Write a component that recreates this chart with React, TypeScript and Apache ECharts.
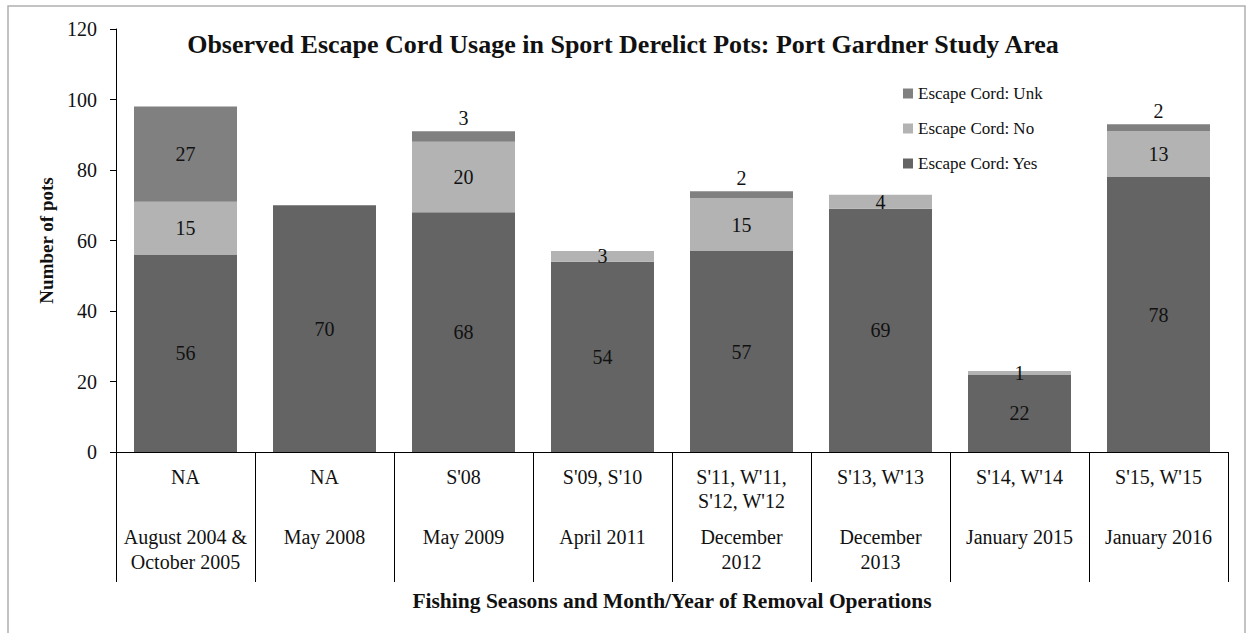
import React, { useEffect, useRef } from "react";
import * as echarts from "echarts";

const seasons = ["NA", "NA", "S'08", "S'09, S'10", "S'11, W'11,\nS'12, W'12", "S'13, W'13", "S'14, W'14", "S'15, W'15"];
const months = ["August 2004 &\nOctober 2005", "May 2008", "May 2009", "April 2011", "December\n2012", "December\n2013", "January 2015", "January 2016"];
const yesValues = [56, 70, 68, 54, 57, 69, 22, 78];
const noValues = [15, 0, 20, 3, 15, 4, 1, 13];
const unkValues = [27, 0, 3, 0, 2, 0, 0, 2];
const yTicks = { min: 0, max: 120, interval: 20 };

const FONT = "Liberation Serif";

export default function App() {
  const ref = useRef<HTMLDivElement>(null);
  useEffect(() => {
    if (!ref.current) return;
    const chart = echarts.init(ref.current, undefined, { renderer: "svg" });
    const labelBase = {
      show: true,
      fontFamily: FONT,
      fontSize: 20,
      color: "#111",
      formatter: (p: any) => (p.value ? String(p.value) : ""),
    };
    chart.setOption({
      animation: false,
      backgroundColor: "#fff",
      title: {
        text: "Observed Escape Cord Usage in Sport Derelict Pots: Port Gardner Study Area",
        left: 618,
        textAlign: "center",
        top: 26,
        textStyle: { fontFamily: FONT, fontWeight: "bold", fontSize: 26, color: "#111" },
      },
      graphic: [
        {
          type: "rect",
          shape: { x: 8, y: 6, width: 1237, height: 660 },
          style: { fill: "none", stroke: "#b0b0b0", lineWidth: 1.5 },
          silent: true,
        },
      ],
      legend: {
        orient: "vertical",
        left: 898,
        top: 80,
        itemWidth: 10,
        itemHeight: 10,
        itemGap: 18,
        icon: "rect",
        data: ["Escape Cord: Unk", "Escape Cord: No", "Escape Cord: Yes"],
        textStyle: { fontFamily: FONT, fontSize: 17, color: "#111" },
      },
      grid: { left: 116, right: 19, top: 29, bottom: 181 },
      xAxis: [
        {
          type: "category",
          data: seasons,
          position: "bottom",
          axisLine: { show: true, lineStyle: { color: "#000", width: 1 } },
          axisTick: { show: true, interval: 0, length: 130, lineStyle: { color: "#000", width: 1 } },
          axisLabel: {
            interval: 0,
            margin: 13,
            fontFamily: FONT,
            fontSize: 20,
            lineHeight: 24,
            color: "#111",
          },
          name: "Fishing Seasons and Month/Year of Removal Operations",
          nameLocation: "middle",
          nameGap: 138,
          nameTextStyle: { fontFamily: FONT, fontWeight: "bold", fontSize: 21.5, color: "#111" },
        },
        {
          type: "category",
          data: months,
          position: "bottom",
          offset: 0,
          axisLine: { show: false },
          axisTick: { show: false },
          axisLabel: {
            interval: 0,
            margin: 72,
            fontFamily: FONT,
            fontSize: 20,
            lineHeight: 25,
            color: "#111",
          },
        },
      ],
      yAxis: {
        type: "value",
        min: yTicks.min,
        max: yTicks.max,
        interval: yTicks.interval,
        axisLine: { show: true, lineStyle: { color: "#000", width: 1 } },
        axisTick: { show: true, length: 6, lineStyle: { color: "#000" } },
        splitLine: { show: false },
        axisLabel: { margin: 19, fontFamily: FONT, fontSize: 20, color: "#111" },
        name: "Number of pots",
        nameLocation: "middle",
        nameGap: 59,
        nameTextStyle: { fontFamily: FONT, fontWeight: "bold", fontSize: 19, color: "#111" },
      },
      series: [
        {
          name: "Escape Cord: Yes",
          type: "bar",
          stack: "pots",
          barWidth: 103,
          data: yesValues,
          itemStyle: { color: "#646464" },
          label: { ...labelBase, position: "inside" },
        },
        {
          name: "Escape Cord: No",
          type: "bar",
          stack: "pots",
          barWidth: 103,
          data: noValues,
          itemStyle: { color: "#b3b3b3" },
          label: { ...labelBase, position: "inside" },
        },
        {
          name: "Escape Cord: Unk",
          type: "bar",
          stack: "pots",
          barWidth: 103,
          data: unkValues.map((v) => ({
            value: v,
            label: { position: v >= 10 ? "inside" : "top", distance: 3 },
          })),
          itemStyle: { color: "#808080" },
          label: { ...labelBase },
        },
      ],
    });
    return () => chart.dispose();
  }, []);
  return <div ref={ref} style={{ position: "fixed", left: 0, top: 0, width: 1247, height: 633 }} />;
}
